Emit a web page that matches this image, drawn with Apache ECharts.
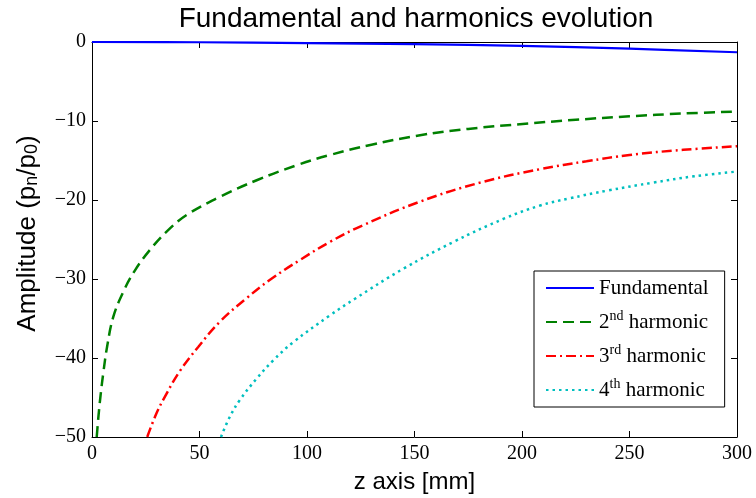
<!DOCTYPE html>
<html>
<head>
<meta charset="utf-8">
<script src="https://cdn.jsdelivr.net/npm/echarts@6/dist/echarts.min.js"></script>
<style>html,body{margin:0;padding:0;background:#fff}#c{width:756px;height:498px}</style>
</head>
<body>
<div id="c"></div>
<script>
// Data
var fundX = [0, 50, 100, 150, 200, 250, 300];
var fundY = [0, -0.03, -0.13, -0.28, -0.5, -0.85, -1.3];

var h2X = [2.2, 3, 4, 5.3, 7, 9.9, 14.6, 20, 27, 34.7, 44, 59.5, 76.6, 95.2, 110.7, 130, 152.6, 175, 199, 225, 250, 275, 300];
var h2Y = [-50, -47.4, -44.7, -41.8, -38.6, -34.8, -31.6, -28.9, -26.3, -24, -21.9, -19.6, -17.5, -15.6, -14.3, -13, -11.8, -11, -10.4, -9.85, -9.4, -9.05, -8.8];

var h3X = [25.7, 30, 34.7, 41, 49.4, 59.5, 72, 82.8, 96.7, 110.7, 126, 152.6, 180.5, 208.4, 230, 250, 275, 300];
var h3Y = [-50, -47, -44.5, -41.6, -38.6, -35.4, -32.4, -30.1, -27.6, -25.3, -23.2, -20.2, -17.8, -16.1, -15.1, -14.3, -13.65, -13.2];

var h4X = [60, 64, 68.8, 76.6, 84.3, 93.6, 110.7, 122.3, 144.8, 168.2, 191.3, 208.4, 222, 240, 261, 280, 300];
var h4Y = [-50, -47.5, -45.3, -42.6, -40.3, -38.0, -34.6, -32.5, -28.7, -25.3, -22.4, -20.7, -19.8, -18.8, -17.8, -17.0, -16.4];

var seriesNames = ['Fundamental', '2nd harmonic', '3rd harmonic', '4th harmonic'];

function pairs(xs, ys) { return xs.map(function (x, i) { return [x, ys[i]]; }); }

var chart = echarts.init(document.getElementById('c'), null, { renderer: 'canvas' });
var serif = '"Liberation Serif", "Times New Roman", serif';
var sans = '"Liberation Sans", Arial, sans-serif';

function minus(v) { return String(v).replace('-', '\u2212'); }

function lineSeries(i, xs, ys, color, width, type) {
  return {
    name: seriesNames[i], type: 'line', data: pairs(xs, ys),
    smooth: 0.4, showSymbol: false, symbol: 'none',
    color: color, lineStyle: { color: color, width: width, type: type }
  };
}

var option = {
  backgroundColor: '#fff',
  animation: false,
  title: {
    text: 'Fundamental and harmonics evolution',
    left: 411, textAlign: 'center', top: 0,
    textStyle: { fontFamily: sans, fontSize: 28, fontWeight: 'normal', color: '#000' }
  },
  grid: { left: 92, right: 19, top: 42, bottom: 61, containLabel: false, outerBoundsMode: 'none' },
  legend: {
    orient: 'vertical',
    left: 534, top: 271,
    padding: [4, 16, 4, 11],
    itemWidth: 48, itemHeight: 12, itemGap: 8,
    backgroundColor: '#fff',
    borderColor: '#000', borderWidth: 1, borderRadius: 0,
    itemStyle: { opacity: 0 },
    data: seriesNames,
    formatter: function (name) {
      if (name === 'Fundamental') return 'Fundamental';
      var m = name.match(/^(\d)(\w\w) (.*)$/);
      return m[1] + '{sup|' + m[2] + '} ' + m[3];
    },
    textStyle: {
      fontFamily: serif, fontSize: 21, color: '#000', lineHeight: 26,
      rich: { sup: { fontFamily: serif, fontSize: 14, verticalAlign: 'top', lineHeight: 12, padding: [0, 0, 10, 0] } }
    }
  },
  xAxis: [{
    type: 'value', min: 0, max: 300, interval: 50,
    name: 'z axis [mm]', nameLocation: 'middle', nameGap: 33,
    nameTextStyle: { fontFamily: sans, fontSize: 24, color: '#000' },
    axisLine: { show: true, onZero: false, lineStyle: { color: '#000', width: 1 } },
    axisTick: { show: true, inside: true, length: 6, lineStyle: { color: '#000' } },
    axisLabel: { fontFamily: serif, fontSize: 20, color: '#000', margin: 7, formatter: minus },
    splitLine: { show: false }
  }, {
    type: 'value', min: 0, max: 300, interval: 50, position: 'top',
    axisLine: { show: true, onZero: false, lineStyle: { color: '#000', width: 1 } },
    axisTick: { show: true, inside: true, length: 6, lineStyle: { color: '#000' } },
    axisLabel: { show: false }, splitLine: { show: false }
  }],
  yAxis: [{
    type: 'value', min: -50, max: 0, interval: 10,
    name: '{m|Amplitude (p}{s|n}{m|/p}{s|0}{m|)}', nameLocation: 'middle', nameGap: 51, nameRotate: 90,
    nameTextStyle: {
      fontFamily: sans, fontSize: 26, color: '#000', padding: [0, 0, 0, 12],
      rich: {
        m: { fontFamily: sans, fontSize: 26, lineHeight: 26, verticalAlign: 'top', color: '#000' },
        s: { fontFamily: sans, fontSize: 18, lineHeight: 18, verticalAlign: 'bottom', padding: [18, 0, 0, 0], color: '#000' }
      }
    },
    axisLine: { show: true, onZero: false, lineStyle: { color: '#000', width: 1 } },
    axisTick: { show: true, inside: true, length: 6, lineStyle: { color: '#000' } },
    axisLabel: { fontFamily: serif, fontSize: 20, color: '#000', margin: 6, formatter: minus },
    splitLine: { show: false }
  }, {
    type: 'value', min: -50, max: 0, interval: 10, position: 'right',
    axisLine: { show: true, onZero: false, lineStyle: { color: '#000', width: 1 } },
    axisTick: { show: true, inside: true, length: 6, lineStyle: { color: '#000' } },
    axisLabel: { show: false }, splitLine: { show: false }
  }],
  series: [
    lineSeries(0, fundX, fundY, '#0000ff', 2.2, 'solid'),
    lineSeries(1, h2X, h2Y, '#008000', 2.5, [11, 6]),
    lineSeries(2, h3X, h3Y, '#ff0000', 2.5, [10, 4, 2, 4]),
    lineSeries(3, h4X, h4Y, '#00bfbf', 2.5, [2.5, 4])
  ]
};
chart.setOption(option);
</script>
</body>
</html>
